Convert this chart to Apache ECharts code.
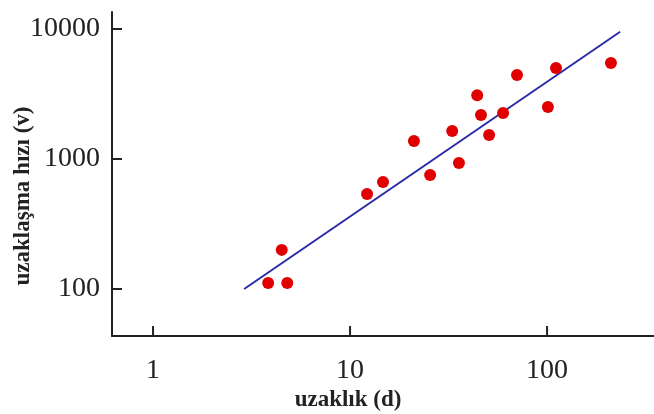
<!DOCTYPE html>
<html>
<head>
<meta charset="utf-8">
<script src="https://cdn.jsdelivr.net/npm/echarts@6/dist/echarts.min.js"></script>
<style>
  html, body { margin: 0; padding: 0; background: #fff; }
  #chart { width: 654px; height: 414px; }
</style>
</head>
<body>
<div id="chart"></div>
<script>
// uzaklık (d) ve uzaklaşma hızı (v) okumaları
var distances = [3.84, 4.5, 4.8, 12.2, 14.7, 21.1, 25.5, 33, 35.7, 44.2, 46.2, 50.8, 59.8, 70.4, 101, 111, 211];
var velocities = [111, 200, 111, 538, 665, 1375, 753, 1640, 931, 3100, 2180, 1530, 2260, 4430, 2510, 5010, 5470];
var fitX = [2.9, 235];
var fitY = [100, 9530];
var xTicks = [1, 10, 100];
var yTicks = [100, 1000, 10000];

(function() {
    var chart = echarts.init(document.getElementById('chart'));
    var serif = 'Liberation Serif';
    var ink = '#222';
    var xRange = { min: 0.619, max: 349 };
    var yRange = { min: 43.5, max: 13520 };
    var points = distances.map(function(d, i) { return [d, velocities[i]]; });
    var fitLine = fitX.map(function(d, i) { return [d, fitY[i]]; });
    var plain = function(v) { return String(Math.round(v)); };

    var option = {
        animation: false,
        backgroundColor: '#fff',
        grid: { left: 112, top: 12, right: 0, bottom: 78, outerBoundsMode: 'none', containLabel: false },
        xAxis: {
            type: 'log',
            min: xRange.min,
            max: xRange.max,
            name: 'uzaklık (d)',
            nameLocation: 'middle',
            nameGap: 53,
            nameMoveOverlap: false,
            nameTextStyle: {
                fontFamily: serif, fontSize: 23, fontWeight: 'bold', color: ink,
                padding: [0, 70, 0, 0]
            },
            axisLine: { lineStyle: { color: ink, width: 2 } },
            axisTick: { show: false },
            axisLabel: {
                fontFamily: serif, fontSize: 28, color: ink, margin: 21,
                showMinLabel: false, showMaxLabel: false, formatter: plain
            },
            splitLine: { show: false },
            minorTick: { show: false }
        },
        yAxis: {
            type: 'log',
            min: yRange.min,
            max: yRange.max,
            name: 'uzaklaşma hızı (v)',
            nameLocation: 'middle',
            nameGap: 77,
            nameMoveOverlap: false,
            nameTextStyle: {
                fontFamily: serif, fontSize: 23, fontWeight: 'bold', color: ink,
                padding: [0, 44, 0, 0]
            },
            axisLine: { show: true, lineStyle: { color: ink, width: 2 } },
            axisTick: { show: false },
            axisLabel: {
                fontFamily: serif, fontSize: 28, color: ink, margin: 12,
                showMinLabel: false, showMaxLabel: false, formatter: plain
            },
            splitLine: { show: false }
        },
        series: [
            {
                type: 'line',
                data: fitLine,
                symbol: 'none',
                lineStyle: { color: '#2b2ba8', width: 2 },
                z: 2
            },
            {
                type: 'scatter',
                data: points,
                symbolSize: 12,
                itemStyle: { color: '#e00000', opacity: 1 },
                z: 3
            }
        ]
    };
    chart.setOption(option);

    // inward ticks: positions come from the axes via convertToPixel
    var ticks = [];
    xTicks.forEach(function(v) {
        var p = chart.convertToPixel({ gridIndex: 0 }, [v, yRange.min]);
        ticks.push({
            type: 'line', z: 100, silent: true,
            shape: { x1: p[0], y1: p[1], x2: p[0], y2: p[1] - 10 },
            style: { stroke: ink, lineWidth: 2 }
        });
    });
    yTicks.forEach(function(v) {
        var p = chart.convertToPixel({ gridIndex: 0 }, [xRange.min, v]);
        ticks.push({
            type: 'line', z: 100, silent: true,
            shape: { x1: p[0], y1: p[1], x2: p[0] + 10, y2: p[1] },
            style: { stroke: ink, lineWidth: 2 }
        });
    });
    chart.setOption({ graphic: ticks });
})();
</script>
</body>
</html>
